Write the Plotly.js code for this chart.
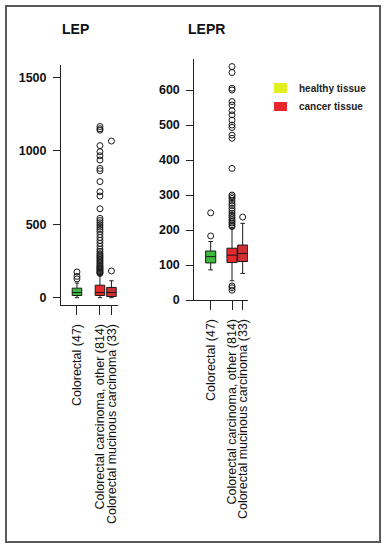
<!DOCTYPE html>
<html>
<head>
<meta charset="utf-8">
<script src="https://cdn.plot.ly/plotly-3.0.1.min.js"></script>
<style>html,body{margin:0;padding:0;background:#fff}#chart{width:386px;height:550px}</style>
</head>
<body>
<div id="chart"></div>
<script>
// ---- data ----
const categories = ["Colorectal (47)", "Colorectal carcinoma, other (814)", "Colorectal mucinous carcinoma (33)"];
const legendLabels = ["healthy tissue", "cancer tissue"];
const panelTitles = ["LEP", "LEPR"];
const lepTicks = [0, 500, 1000, 1500];
const leprTicks = [0, 100, 200, 300, 400, 500, 600];

// LEP box statistics
const lepQ1 = [15, 15, 8];
const lepMedian = [35, 35, 35];
const lepQ3 = [65, 85, 70];
const lepLower = [0, 0, 0];
const lepUpper = [100, 160, 115];
const lepOutHealthy = [128, 145, 175];
const lepOutOther = [165, 170, 176, 183, 190, 198, 205, 212, 220, 230, 240, 250, 260, 270, 280, 290, 300, 315, 330, 350, 370, 390, 410, 430, 450, 465, 480, 495, 510, 525, 540, 605, 692, 721, 790, 864, 880, 937, 966, 993, 1035, 1140, 1150, 1165];
const lepOutMucinous = [182, 1066];

// LEPR box statistics
const leprQ1 = [106, 107, 110];
const leprMedian = [124, 128, 133];
const leprQ3 = [140, 148, 157];
const leprLower = [86, 55, 76];
const leprUpper = [167, 205, 219];
const leprOutHealthy = [183, 249];
const leprOutOther = [28, 35, 40, 210, 215, 220, 225, 230, 236, 242, 248, 255, 262, 270, 276, 283, 290, 295, 300, 376, 462, 471, 493, 500, 514, 529, 541, 557, 567, 600, 605, 650, 667];
const leprOutMucinous = [237];

// ---- styling / layout (not data) ----
const pos = [1, 3, 4];
const fills = ['#3dba3d', '#e8282c', '#cf3034'];
const W = 386, H = 550;
const px = v => v / W, py = v => 1 - v / H;
const font = "Liberation Sans, Arial, Helvetica, sans-serif";

const traces = [];
function addPanel(q1, med, q3, lo, hi, outs, xa, ya, bw) {
  for (let i = 0; i < 3; i++) {
    traces.push({
      type: 'box', x: [pos[i]], q1: [q1[i]], median: [med[i]], q3: [q3[i]],
      lowerfence: [lo[i]], upperfence: [hi[i]], width: bw,
      fillcolor: fills[i], line: {color: '#1a1a1a', width: 1}, whiskerwidth: 0.45,
      xaxis: xa, yaxis: ya, showlegend: false, hoverinfo: 'skip'
    });
    traces.push({
      type: 'scatter', mode: 'markers', x: outs[i].map(() => pos[i]), y: outs[i],
      marker: {symbol: 'circle-open', size: 6, color: '#1a1a1a', line: {width: 1, color: '#1a1a1a'}},
      xaxis: xa, yaxis: ya, showlegend: false, hoverinfo: 'skip', cliponaxis: false
    });
  }
}
addPanel(lepQ1, lepMedian, lepQ3, lepLower, lepUpper, [lepOutHealthy, lepOutOther, lepOutMucinous], 'x', 'y', 0.83);
addPanel(leprQ1, leprMedian, leprQ3, leprLower, leprUpper, [leprOutHealthy, leprOutOther, leprOutMucinous], 'x2', 'y2', 0.95);

const xCommon = {
  tickmode: 'array', tickvals: pos, ticktext: categories, tickangle: -90,
  showline: true, linecolor: '#222', linewidth: 1, ticks: 'outside', ticklen: 9, tickcolor: '#222',
  showgrid: false, zeroline: false, ticklabelstandoff: 4,
  tickfont: {family: font, size: 12.5, color: '#111'}
};
const yCommon = {
  showline: true, linecolor: '#222', linewidth: 1, ticks: 'outside', ticklen: 7, tickcolor: '#222',
  showgrid: false, zeroline: false, tickmode: 'array', ticklabelstandoff: 4,
  tickfont: {family: font, size: 12.5, color: '#111', weight: 'bold'}
};

const layout = {
  width: W, height: H, margin: {l: 0, r: 0, t: 0, b: 0},
  paper_bgcolor: '#fff', plot_bgcolor: 'rgba(0,0,0,0)', boxmode: 'overlay', showlegend: false,
  xaxis: Object.assign({}, xCommon, {domain: [px(61), px(118)], range: [-0.39, 4.57], anchor: 'y'}),
  yaxis: Object.assign({}, yCommon, {domain: [py(305), py(65)], range: [-49.7, 1583.7], anchor: 'x', tickvals: lepTicks}),
  xaxis2: Object.assign({}, xCommon, {domain: [px(186.7), px(248)], range: [-1.25, 4.5], anchor: 'y2'}),
  yaxis2: Object.assign({}, yCommon, {domain: [py(300), py(59)], range: [0, 688.6], anchor: 'free', position: px(193.3), tickvals: leprTicks}),
  shapes: [
    {type: 'rect', xref: 'paper', yref: 'paper', x0: px(6), x1: px(380), y0: py(542), y1: py(6), line: {color: '#5a5a5a', width: 2}},
    {type: 'rect', xref: 'paper', yref: 'paper', x0: px(274), x1: px(287), y0: py(93), y1: py(83), fillcolor: '#e0f020', line: {width: 0}},
    {type: 'rect', xref: 'paper', yref: 'paper', x0: px(274), x1: px(287), y0: py(111), y1: py(102), fillcolor: '#e8262e', line: {width: 0}}
  ],
  annotations: [
    {text: panelTitles[0], xref: 'paper', yref: 'paper', x: px(75), y: py(29), showarrow: false, xanchor: 'center', yanchor: 'middle', font: {family: font, size: 14, color: '#111', weight: 'bold'}},
    {text: panelTitles[1], xref: 'paper', yref: 'paper', x: px(206.5), y: py(29), showarrow: false, xanchor: 'center', yanchor: 'middle', font: {family: font, size: 14, color: '#111', weight: 'bold'}},
    {text: legendLabels[0], xref: 'paper', yref: 'paper', x: px(297), y: py(88), showarrow: false, xanchor: 'left', yanchor: 'middle', font: {family: font, size: 10, color: '#222', weight: 'bold'}},
    {text: legendLabels[1], xref: 'paper', yref: 'paper', x: px(297), y: py(106.5), showarrow: false, xanchor: 'left', yanchor: 'middle', font: {family: font, size: 10, color: '#222', weight: 'bold'}}
  ]
};

Plotly.newPlot('chart', traces, layout, {staticPlot: true, displayModeBar: false});
</script>
</body>
</html>
